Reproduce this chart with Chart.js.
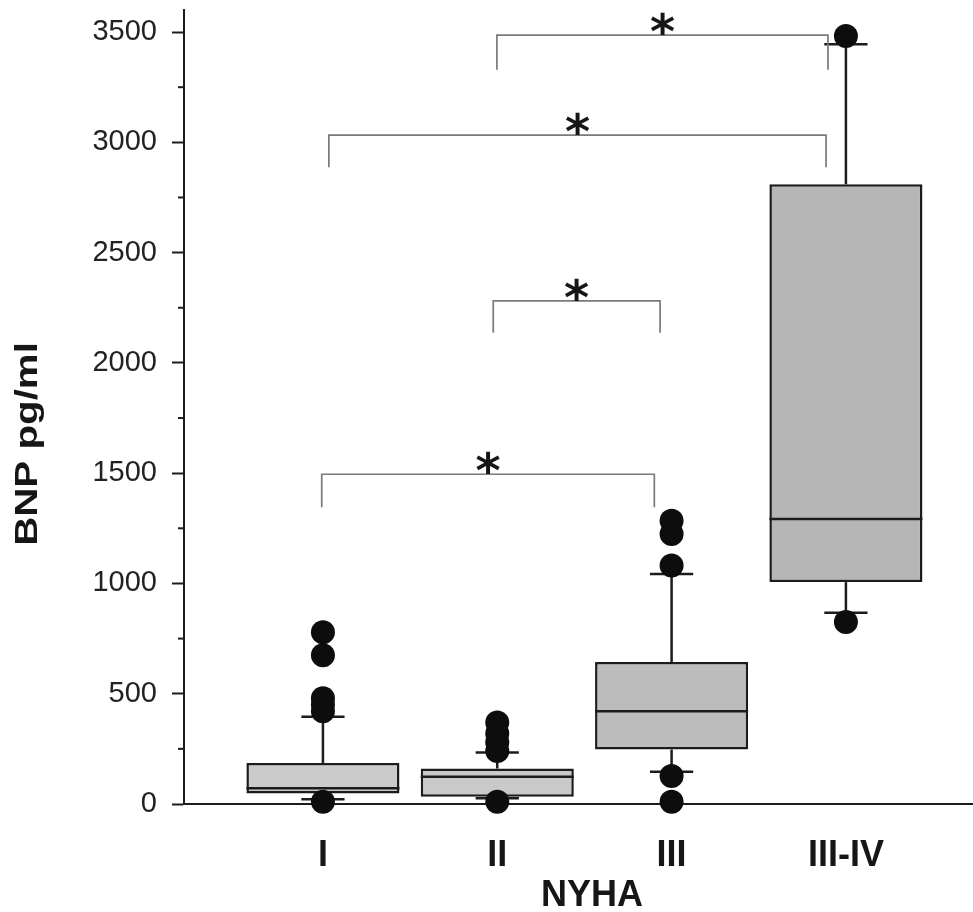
<!DOCTYPE html>
<html>
<head>
<meta charset="utf-8">
<script src="https://cdn.jsdelivr.net/npm/chart.js@4.4.1/dist/chart.umd.min.js"></script>
<style>
html,body{margin:0;padding:0;background:#fff;overflow:hidden}
#wrap{width:973px;height:912px}
</style>
</head>
<body>
<div id="wrap"><canvas id="c" width="973" height="912"></canvas></div>
<script>
// ---- data ----
const categories = ['I', 'II', 'III', 'III-IV'];
const yTickLabels = [0, 500, 1000, 1500, 2000, 2500, 3000, 3500];
const q1 = [48, 33, 247, 1006];
const median = [71, 124, 421, 1292];
const q3 = [186, 161, 644, 2810];
const whiskerLow = [21, 26, 146, 867];
const whiskerHigh = [396, 234, 1043, 3445];
const outliersI = [779, 674, 480, 450, 420, 10];
const outliersII = [370, 320, 280, 240, 10];
const outliersIII = [1284, 1224, 1081, 127, 10];
const outliersIIIIV = [3482, 825];
const outlierGroups = [outliersI, outliersII, outliersIII, outliersIIIIV];
// significance brackets (x in category units, y in pg/ml)
const bracketFrom = [0.993, 1.977, 1.034, 1.998];
const bracketTo = [2.901, 2.934, 3.886, 3.897];
const bracketTop = [1495, 2281, 3033, 3486];
const bracketEnd = [1345, 2137, 2887, 3329];
const bracketLabel = ['*', '*', '*', '*'];
const xTitle = 'NYHA';
const yTitle = 'BNP pg/ml';

// ---- styles ----
const boxFill = ['#cbcbcb', '#c9c9c9', '#bcbcbc', '#b6b6b6'];
const ink = '#1c1c1c';
const capHalf = 0.124;

const outlierPoints = [];
outlierGroups.forEach((arr, i) => arr.forEach(v => outlierPoints.push({x: i + 1, y: v})));

const extras = {
  id: 'boxExtras',
  afterDatasetDraw(chart, args) {
    if (args.meta.type !== 'bar') return;
    const {ctx, scales: {x, y}} = chart;
    ctx.save();
    ctx.strokeStyle = ink;
    ctx.lineWidth = 2.5;
    const seg = (x1, y1, x2, y2) => { ctx.beginPath(); ctx.moveTo(x1, y1); ctx.lineTo(x2, y2); ctx.stroke(); };
    categories.forEach((c, i) => {
      const el = args.meta.data[i];
      const cx = el.x, half = el.width / 2;
      const ym = y.getPixelForValue(median[i]);
      seg(cx - half, ym, cx + half, ym);
      const cw = x.getPixelForValue(1 + capHalf) - x.getPixelForValue(1);
      const yt = y.getPixelForValue(q3[i]), yh = y.getPixelForValue(whiskerHigh[i]);
      seg(cx, yt, cx, yh); seg(cx - cw, yh, cx + cw, yh);
      const yb = y.getPixelForValue(q1[i]), yl = y.getPixelForValue(whiskerLow[i]);
      seg(cx, yb, cx, yl); seg(cx - cw, yl, cx + cw, yl);
    });
    ctx.restore();
  },
  afterDraw(chart) {
    const {ctx, scales: {x, y}, chartArea} = chart;
    ctx.save();
    // minor ticks
    ctx.strokeStyle = ink; ctx.lineWidth = 2;
    y.ticks.filter(t => t.value % 500 !== 0).forEach(t => {
      const py = y.getPixelForValue(t.value);
      ctx.beginPath(); ctx.moveTo(y.right - 6, py); ctx.lineTo(y.right, py); ctx.stroke();
    });
    // brackets
    ctx.strokeStyle = '#7a7a7a'; ctx.lineWidth = 1.7;
    ctx.fillStyle = '#161616';
    ctx.font = 'bold 48px "DejaVu Sans"';
    ctx.textAlign = 'center'; ctx.textBaseline = 'alphabetic';
    bracketTop.forEach((v, i) => {
      const x1 = x.getPixelForValue(bracketFrom[i]), x2 = x.getPixelForValue(bracketTo[i]);
      const yt = y.getPixelForValue(v), ye = y.getPixelForValue(bracketEnd[i]);
      ctx.beginPath(); ctx.moveTo(x1, ye); ctx.lineTo(x1, yt); ctx.lineTo(x2, yt); ctx.lineTo(x2, ye); ctx.stroke();
      ctx.fillText(bracketLabel[i], (x1 + x2) / 2, yt + 13);
    });
    // axis titles
    ctx.fillStyle = '#161616';
    ctx.textAlign = 'center'; ctx.textBaseline = 'middle';
    ctx.font = 'bold 36px "Liberation Sans", Arial, sans-serif';
    ctx.fillText(xTitle, chartArea.left + 408, chartArea.bottom + 92);
    ctx.save();
    ctx.translate(28, chartArea.bottom - 360);
    ctx.rotate(-Math.PI / 2);
    ctx.scale(1.3, 1);
    ctx.font = 'bold 31px "Liberation Sans", Arial, sans-serif';
    ctx.fillText(yTitle, 0, 0);
    ctx.restore();
    ctx.restore();
  }
};

new Chart(document.getElementById('c'), {
  type: 'bar',
  data: {
    datasets: [
      {
        type: 'scatter',
        data: outlierPoints,
        pointRadius: 12,
        pointHoverRadius: 12,
        pointBackgroundColor: '#0d0d0d',
        pointBorderColor: '#0d0d0d',
        pointBorderWidth: 0,
        clip: false
      },
      {
        type: 'bar',
        data: categories.map((c, i) => ({x: i + 1, y: [q1[i], q3[i]]})),
        backgroundColor: boxFill,
        borderColor: ink,
        borderWidth: 2.5,
        borderSkipped: false,
        barPercentage: 0.878,
        categoryPercentage: 1.0
      }
    ]
  },
  options: {
    responsive: false,
    animation: false,
    devicePixelRatio: 1,
    layout: {autoPadding: false, padding: {top: 10, right: 0, bottom: 0, left: 0}},
    plugins: {legend: {display: false}, tooltip: {enabled: false}},
    scales: {
      x: {
        type: 'linear',
        offset: false,
        min: 0.203,
        max: 4.729,
        afterBuildTicks: s => { s.ticks = categories.map((c, i) => ({value: i + 1})); },
        afterFit: s => { s.height = 108; s.paddingLeft = 0; s.paddingRight = 0; },
        grid: {display: false},
        border: {display: true, color: ink, width: 2},
        ticks: {
          autoSkip: false,
          maxRotation: 0,
          padding: 22,
          color: '#161616',
          font: {family: '"Liberation Sans", Arial, sans-serif', size: 36, weight: 'bold'},
          callback: v => categories[v - 1]
        },
        title: {display: false}
      },
      y: {
        type: 'linear',
        min: 0,
        max: 3600,
        afterBuildTicks: s => { s.ticks = s.ticks.filter(t => t.value <= 3500); },
        afterFit: s => { s.width = 184; s.paddingTop = 0; s.paddingBottom = 0; },
        grid: {
          drawOnChartArea: false,
          tickLength: 12,
          tickWidth: 2,
          tickColor: c => (yTickLabels.includes(c.tick.value) ? ink : 'rgba(0,0,0,0)')
        },
        border: {display: true, color: ink, width: 2},
        ticks: {
          stepSize: 250,
          includeBounds: false,
          autoSkip: false,
          padding: 15,
          color: '#222222',
          font: {family: '"Liberation Sans", Arial, sans-serif', size: 29},
          callback: v => (yTickLabels.includes(v) ? String(v) : '')
        },
        title: {display: false}
      }
    }
  },
  plugins: [extras]
});
</script>
</body>
</html>
